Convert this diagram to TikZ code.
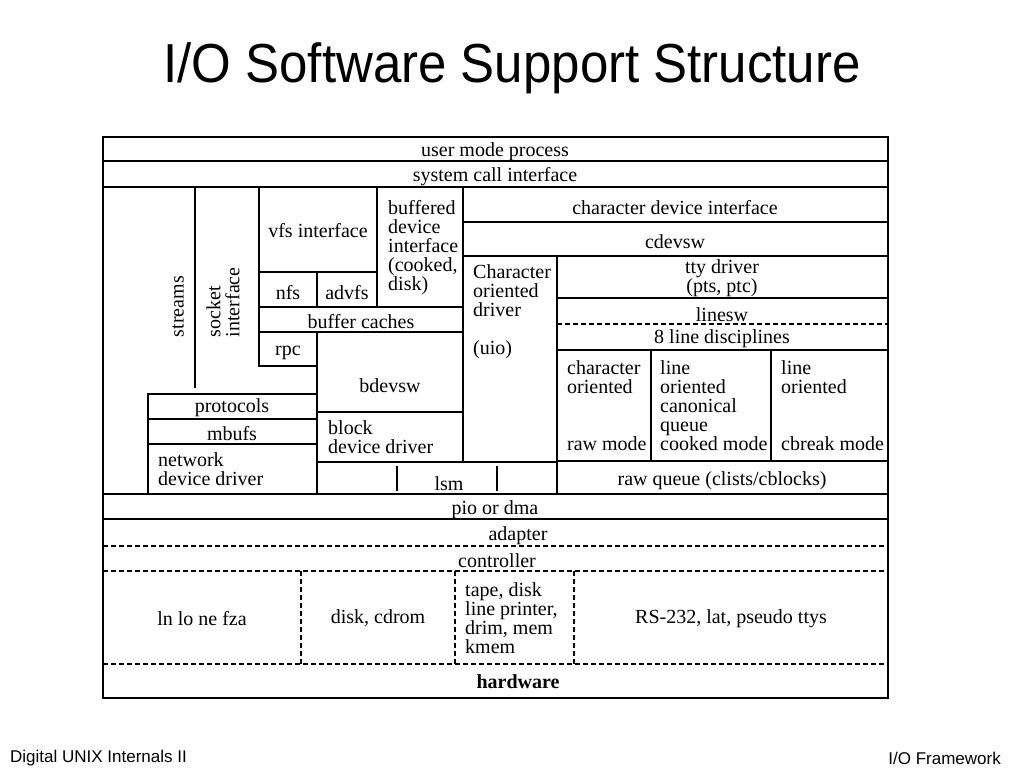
\documentclass[tikz,border=0pt]{standalone}
\usepackage{fontspec}
\setmainfont{Liberation Serif}
\newfontfamily\sansfont{Liberation Sans}
\newcommand\boxfont{\fontsize{20}{19}\selectfont}
\usetikzlibrary{positioning}

\begin{document}
\begin{tikzpicture}[x=1pt, y=-1pt,
		box/.style={line width=2pt},
		sepline/.style={line width=1.6pt, dash pattern=on 5pt off 3pt},
		lbl/.style={font=\boxfont, inner sep=0pt, align=left, yshift=-1.5pt}]
			\useasboundingbox (0,0) rectangle (1024,768);
			\node[font=\sansfont\fontsize{50}{50}\selectfont, xscale=1.02, yscale=1.1] (title) at (512,68) {I/O Software Support Structure};

			% outer frame and full rows
			\draw[line width=2.6pt] (103,137) rectangle (888,698);
			\draw[box] (103,161) -- (888,161);
			\draw[box] (103,187) -- (888,187);
			\draw[box] (103,494) -- (888,494);
			\draw[box] (103,519) -- (888,519);
			\draw[sepline] (103,546) -- (888,546);
			\draw[sepline] (103,571) -- (888,571);
			\draw[sepline] (103,664) -- (888,664);
			\draw[sepline] (301,571) -- (301,664);
			\draw[sepline] (455,571) -- (455,664);
			\draw[sepline] (574,571) -- (574,664);

			% left side: streams, sockets, file systems
			\draw[box] (195,187) -- (195,388);
			\draw[box] (259,187) rectangle (377,272);
			\draw[box] (377,187) rectangle (463,307);
			\draw[box] (259,272) rectangle (317,307);
			\draw[box] (317,272) rectangle (377,307);
			\draw[box] (259,307) rectangle (463,332);
			\draw[box] (259,332) rectangle (317,366);
			\draw[box] (317,332) rectangle (463,412);
			\draw[box] (317,412) rectangle (463,462);
			\draw[box] (317,462) -- (317,494);
			\draw[box] (397,466) -- (397,491);
			\draw[box] (497,466) -- (497,491);
			\draw[box] (148,394) rectangle (317,419);
			\draw[box] (148,419) rectangle (317,444);
			\draw[box] (148,444) rectangle (317,494);

			% right side: character devices
			\draw[box] (463,187) rectangle (888,222);
			\draw[box] (463,222) rectangle (888,256);
			\draw[box] (463,256) rectangle (557,462);
			\draw[box] (557,256) rectangle (888,298);
			\draw[box] (557,298) rectangle (888,350);
			\draw[sepline] (557,324) -- (888,324);
			\draw[box] (557,350) rectangle (651,461);
			\draw[box] (651,350) rectangle (771,461);
			\draw[box] (771,350) rectangle (888,461);
			\draw[box] (557,461) rectangle (888,494);

			\node[lbl] (user) at (495,150) {user mode process};
			\node[lbl] (syscall) at (495,175) {system call interface};
			\node[lbl, rotate=90, anchor=west] (streams) at (178,336) {streams};
			\node[lbl, rotate=90, anchor=west] (socket) at (223,336) {socket\\interface};
			\node[lbl] (vfs) at (318,229) {vfs interface};
			\node[lbl, anchor=west] (buffered) at (388,246) {buffered\\device\\interface\\(cooked,\\disk)};
			\node[lbl] (nfs) at (288,291) {nfs};
			\node[lbl] (advfs) at (347,291) {advfs};
			\node[lbl] (caches) at (361,320) {buffer caches};
			\node[lbl] (rpc) at (288,351) {rpc};
			\node[lbl] (bdevsw) at (390,384) {bdevsw};
			\node[lbl, anchor=west] (blockdrv) at (328,436) {block\\device driver};
			\node[lbl] (lsm) at (449,482) {lsm};
			\node[lbl] (protocols) at (232,406) {protocols};
			\node[lbl] (mbufs) at (232,432) {mbufs};
			\node[lbl, anchor=west] (netdrv) at (158,468) {network\\device driver};

			\node[lbl] (chardev) at (675,206) {character device interface};
			\node[lbl] (cdevsw) at (675,240) {cdevsw};
			\node[lbl, anchor=west] (uio) at (473,310) {Character\\oriented\\driver\\[19pt](uio)};
			\node[lbl, align=center] (tty) at (722,277) {tty driver\\(pts, ptc)};
			\node[lbl] (linesw) at (722,313) {linesw};
			\node[lbl] (disc) at (722,337) {8 line disciplines};
			\node[lbl, anchor=west] (rawmode) at (567,404) {character\\oriented\\[38pt]raw mode};
			\node[lbl, anchor=west] (cooked) at (660,404) {line\\oriented\\canonical\\queue\\cooked mode};
			\node[lbl, anchor=west] (cbreak) at (781,404) {line\\oriented\\[38pt]cbreak mode};
			\node[lbl] (rawq) at (722,479) {raw queue (clists/cblocks)};

			\node[lbl] (pio) at (495,508) {pio or dma};
			\node[lbl] (adapter) at (518,534) {adapter};
			\node[lbl] (controller) at (497,559) {controller};
			\node[lbl] (net) at (202,617) {ln lo ne fza};
			\node[lbl] (disk) at (378,617) {disk, cdrom};
			\node[lbl, anchor=west] (tape) at (465,617) {tape, disk\\line printer,\\drim, mem\\kmem};
			\node[lbl] (serial) at (731,617) {RS-232, lat, pseudo ttys};
			\node[lbl, font=\boxfont\bfseries] (hardware) at (518,680) {hardware};

			\node[font=\sansfont\fontsize{17}{17}\selectfont, anchor=west, inner sep=0pt] (course) at (10,758) {Digital UNIX Internals II};
			\node[font=\sansfont\fontsize{17}{17}\selectfont, anchor=east, inner sep=0pt] (chapter) at (1001,758) {I/O Framework};
		\end{tikzpicture}
\end{document}
